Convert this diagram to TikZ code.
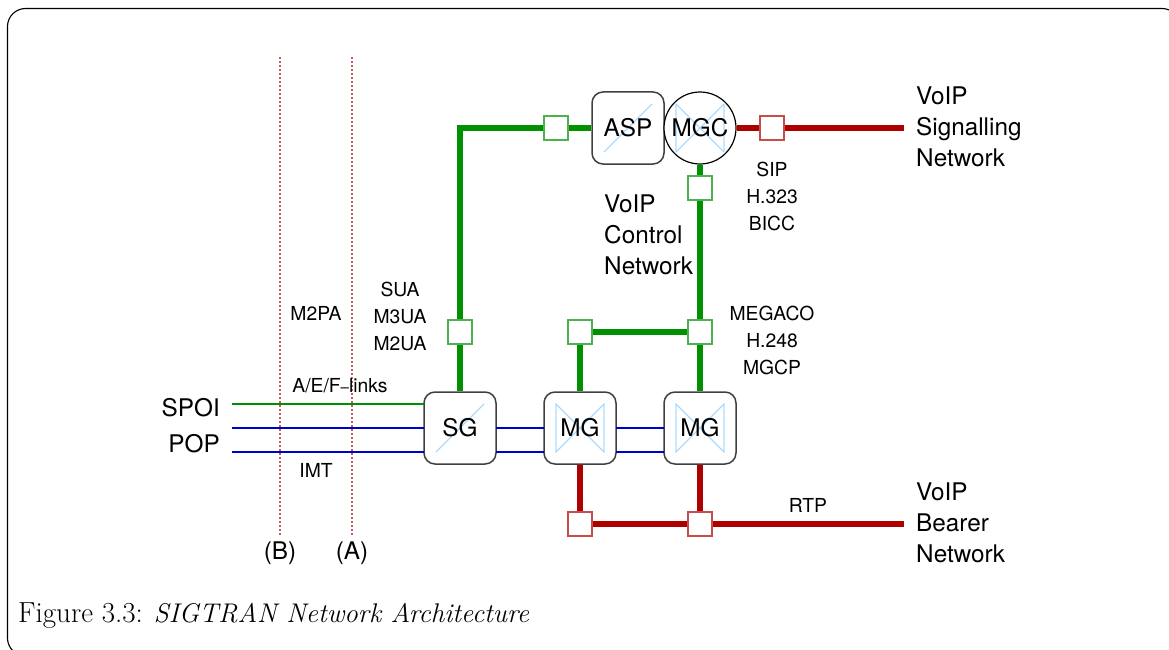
\documentclass[tikz,border=0pt]{standalone}
\usepackage{fontspec}
\setsansfont{TeX Gyre Heros}
\newfontfamily\capfont{Latin Modern Roman}
\definecolor{gline}{RGB}{0,145,0}
\definecolor{rline}{RGB}{175,0,0}
\definecolor{bline}{RGB}{0,0,205}
\definecolor{cross}{RGB}{170,220,255}
\tikzset{
  sans/.style={font=\fontsize{24.3}{24}\selectfont\sffamily,inner sep=0pt},
  lab/.style={font=\fontsize{19.3}{27}\selectfont\sffamily,inner sep=0pt,align=center},
  net/.style={font=\fontsize{24.3}{31}\selectfont\sffamily,inner sep=0pt,align=left,anchor=west},
  thick green/.style={draw=gline,line width=5.2pt},
  thick red/.style={draw=rline,line width=5.2pt},
  thin blue/.style={draw=bline,line width=2.8pt},
  thin green/.style={draw=gline,line width=2.8pt},
  portg/.style={draw=gline!70!white,fill=white,line width=1.2pt,minimum size=24pt,inner sep=0pt},
  portr/.style={draw=rline!70!white,fill=white,line width=1.2pt,minimum size=24pt,inner sep=0pt},
  gate/.style={draw=black!75,fill=white,line width=1.5pt,rounded corners=11pt,minimum size=72pt,inner sep=0pt},
  circ/.style={draw=black,fill=white,line width=1.2pt,circle,minimum size=72pt,inner sep=0pt},
  xline/.style={draw=cross,line width=1.2pt},
  refline/.style={draw=rline!65!white,line width=1.6pt,dash pattern=on 1.8pt off 2.2pt},
}
\begin{document}
\begin{tikzpicture}[x=1pt,y=-1pt]
\useasboundingbox (0,0) rectangle (1169,650);
\begin{scope}
\clip (0,0) rectangle (1169,650);
\draw[line width=1.1pt,rounded corners=18pt] (7.5,8.5) rectangle (1180,656);
\end{scope}
% boxes
\node[gate] (asp) at (628,128) {};
\node[circ] (mgc) at (700,128) {};
\node[gate] (sg) at (460,428) {};
\node[gate] (mg1) at (580,428) {};
\node[gate] (mg2) at (700,428) {};
% ports
\node[portg] (p1) at (556,128) {};
\node[portr] (p2) at (772,128) {};
\node[portg] (p3) at (700,188) {};
\node[portg] (p4) at (460,332) {};
\node[portg] (p5) at (580,332) {};
\node[portg] (p6) at (700,332) {};
\node[portr] (p7) at (580,524) {};
\node[portr] (p8) at (700,524) {};
% free ends
\coordinate (corner) at (460,128);
\coordinate (sigend) at (904,128);
\coordinate (bearend) at (904,524);
\coordinate (spoi) at (232,404);
\coordinate (pop1) at (232,428);
\coordinate (pop2) at (232,452);
\coordinate (sgw) at (424,404);
\coordinate (b1w) at (424,428);
\coordinate (b2w) at (424,452);
\coordinate (a1) at (280,57);
\coordinate (a2) at (280,536);
\coordinate (c1) at (352,57);
\coordinate (c2) at (352,536);
% connectors
\draw[thin green] (spoi) -- (sgw);
\draw[thin blue] (pop1) -- (b1w);
\draw[thin blue] (pop2) -- (b2w);
\draw[thin blue] (496,428) -- (544,428) (496,452) -- (544,452) (616,428) -- (664,428) (616,452) -- (664,452);
\draw[thick green] (sg.north) -- (p4.south);
\draw[thick green] (p4.north) -- (corner) -- (p1.west);
\draw[thick green] (p1.east) -- (asp.west);
\draw[thick red] (mgc.east) -- (p2.west);
\draw[thick red] (p2.east) -- (sigend);
\draw[thick green] (mgc.south) -- (p3.north);
\draw[thick green] (p3.south) -- (p6.north);
\draw[thick green] (p6.south) -- (mg2.north);
\draw[thick green] (p5.east) -- (p6.west);
\draw[thick green] (p5.south) -- (mg1.north);
\draw[thick red] (mg1.south) -- (p7.north);
\draw[thick red] (mg2.south) -- (p8.north);
\draw[thick red] (p7.east) -- (p8.west);
\draw[thick red] (p8.east) -- (bearend);
\draw[refline] (a1) -- (a2);
\draw[refline] (c1) -- (c2);
% crosses
\draw[xline] (604,152) -- (652,104);
\draw[xline] (436,452) -- (484,404);
\draw[xline] (676,104) -- (724,152) -- (724,104) -- (676,152) -- cycle;
\draw[xline] (556,404) -- (604,452) -- (604,404) -- (556,452) -- cycle;
\draw[xline] (676,404) -- (724,452) -- (724,404) -- (676,452) -- cycle;
% labels
\node[sans] (tasp) at (628,128) {ASP};
\node[sans] (tmgc) at (700,128) {MGC};
\node[sans] (tsg) at (460,428) {SG};
\node[sans] (tmg1) at (580,428) {MG};
\node[sans] (tmg2) at (700,428) {MG};
\node[net] (n1) at (916,127) {VoIP\\Signalling\\Network};
\node[net] (n2) at (604,235) {VoIP\\Control\\Network};
\node[net] (n3) at (916,523) {VoIP\\Bearer\\Network};
\node[lab] (l1) at (772,196) {SIP\\H.323\\BICC};
\node[lab] (l2) at (772,340) {MEGACO\\H.248\\MGCP};
\node[lab] (l3) at (400,316) {SUA\\M3UA\\M2UA};
\node[lab] (l4) at (316,313) {M2PA};
\node[lab] (l5) at (340,386) {A/E/F{\fontsize{15}{27}\selectfont –}links};
\node[lab] (l6) at (316,470) {IMT};
\node[lab] (l7) at (808,505) {RTP};
\node[sans,anchor=east] (s1) at (220,408) {SPOI};
\node[sans,anchor=east] (s2) at (220,444) {POP};
\node[sans] (b) at (280,553) {(B)};
\node[sans] (a) at (352,553) {(A)};
\node[anchor=base west,inner sep=0pt,font=\capfont] (cap) at (18,622) {\fontsize{29}{27}\selectfont Figure 3.3:\hspace{11pt}\fontsize{27}{27}\selectfont\textit{SIGTRAN Network Architecture}};
\end{tikzpicture}
\end{document}
